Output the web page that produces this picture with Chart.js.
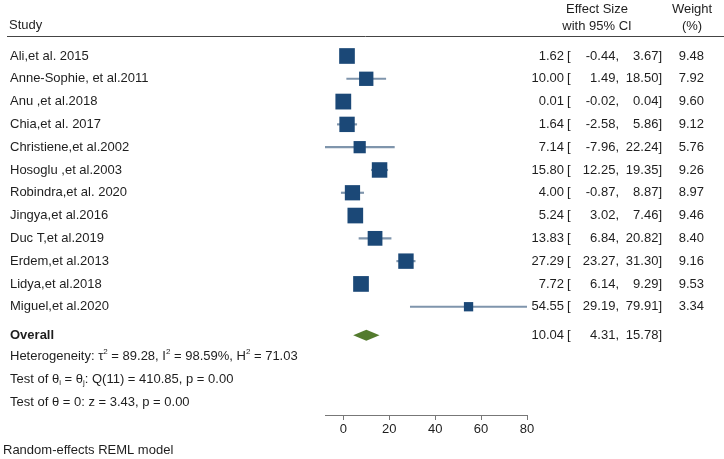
<!DOCTYPE html>
<html>
<head>
<meta charset="utf-8">
<script src="https://cdn.jsdelivr.net/npm/chart.js@4.4.1/dist/chart.umd.min.js"></script>
<style>
  body { margin: 0; background: #fff; }
  canvas { display: block; }
</style>
</head>
<body>
<canvas id="forest" width="724" height="459"></canvas>
<script>
// data
var studies = ['Ali,et al. 2015', 'Anne-Sophie, et al.2011', 'Anu ,et al.2018', 'Chia,et al. 2017',
    'Christiene,et al.2002', 'Hosoglu ,et al.2003', 'Robindra,et al. 2020', 'Jingya,et al.2016',
    'Duc T,et al.2019', 'Erdem,et al.2013', 'Lidya,et al.2018', 'Miguel,et al.2020'];
var effect = [1.62, 10.00, 0.01, 1.64, 7.14, 15.80, 4.00, 5.24, 13.83, 27.29, 7.72, 54.55];
var lower = [-0.44, 1.49, -0.02, -2.58, -7.96, 12.25, -0.87, 3.02, 6.84, 23.27, 6.14, 29.19];
var upper = [3.67, 18.50, 0.04, 5.86, 22.24, 19.35, 8.87, 7.46, 20.82, 31.30, 9.29, 79.91];
var weight = [9.48, 7.92, 9.60, 9.12, 5.76, 9.26, 8.97, 9.46, 8.40, 9.16, 9.53, 3.34];
var overall = [10.04, 4.31, 15.78];
var xTicks = [0, 20, 40, 60, 80];

var FONT = '"Liberation Sans", Arial, sans-serif';
var FS = 13;
var squareColor = '#1b4877';
var ciColor = '#7f95ac';
var diamondColor = '#537b2e';

function fmt(v) { return v.toFixed(2); }

// draws text with small sup/sub parts
function drawRich(ctx, parts, x, y) {
    ctx.textAlign = 'left';
    parts.forEach(function (p) {
        var txt = p[0], kind = p[1] || 'n';
        if (kind == 'n') {
            ctx.font = FS + 'px ' + FONT;
            ctx.fillText(txt, x, y);
        } else {
            ctx.font = '8px ' + FONT;
            ctx.fillText(txt, x, kind == 'sup' ? y - 5 : y + 3);
        }
        x += ctx.measureText(txt).width;
    });
}

var textPlugin = {
    id: 'forestText',
    afterDraw: function (chart) {
        var ctx = chart.ctx;
        var xs = chart.scales.x, ys = chart.scales.y;
        ctx.save();
        ctx.fillStyle = '#1e1e1e';
        ctx.textBaseline = 'middle';
        ctx.font = FS + 'px ' + FONT;

        // header
        ctx.textAlign = 'left';
        ctx.fillText('Study', 9, 25);
        ctx.textAlign = 'center';
        ctx.fillText('Effect Size', 597, 9);
        ctx.fillText('with 95% CI', 597, 26);
        ctx.fillText('Weight', 692, 9);
        ctx.fillText('(%)', 692, 26);
        ctx.strokeStyle = '#444';
        ctx.lineWidth = 1;
        ctx.beginPath();
        ctx.moveTo(7, 36.5);
        ctx.lineTo(724, 36.5);
        ctx.stroke();

        function numRow(y, est, lo, hi, w) {
            ctx.font = FS + 'px ' + FONT;
            ctx.textAlign = 'right';
            ctx.fillText(fmt(est), 564, y);
            ctx.textAlign = 'left';
            ctx.fillText('[', 567, y);
            ctx.textAlign = 'right';
            ctx.fillText(fmt(lo) + ',', 619, y);
            ctx.fillText(fmt(hi) + ']', 662, y);
            if (w != null) ctx.fillText(fmt(w), 704, y);
        }

        for (var i = 0; i < studies.length; i++) {
            var y = ys.getPixelForValue(i);
            ctx.font = FS + 'px ' + FONT;
            ctx.textAlign = 'left';
            ctx.fillText(studies[i], 10, y);
            numRow(y, effect[i], lower[i], upper[i], weight[i]);
        }

        // overall row
        var oy = ys.getPixelForValue(studies.length + 0.25);
        ctx.font = 'bold ' + FS + 'px ' + FONT;
        ctx.textAlign = 'left';
        ctx.fillText('Overall', 10, oy);
        numRow(oy, overall[0], overall[1], overall[2], null);

        // diamond
        var dl = xs.getPixelForValue(overall[1]);
        var dm = xs.getPixelForValue(overall[0]);
        var dr = xs.getPixelForValue(overall[2]);
        ctx.fillStyle = diamondColor;
        ctx.beginPath();
        ctx.moveTo(dl, oy);
        ctx.lineTo(dm, oy - 5.5);
        ctx.lineTo(dr, oy);
        ctx.lineTo(dm, oy + 5.5);
        ctx.closePath();
        ctx.fill();

        ctx.fillStyle = '#1e1e1e';
        drawRich(ctx, [['Heterogeneity: \u03c4'], ['2', 'sup'], [' = 89.28, I'], ['2', 'sup'],
            [' = 98.59%, H'], ['2', 'sup'], [' = 71.03']], 10, ys.getPixelForValue(13.2));
        drawRich(ctx, [['Test of \u03b8'], ['i', 'sub'], [' = \u03b8'], ['j', 'sub'],
            [': Q(11) = 410.85, p = 0.00']], 10, ys.getPixelForValue(14.2));
        drawRich(ctx, [['Test of \u03b8 = 0: z = 3.43, p = 0.00']], 10, ys.getPixelForValue(15.2));

        ctx.font = FS + 'px ' + FONT;
        ctx.textAlign = 'left';
        ctx.fillText('Random-effects REML model', 3, 450);
        ctx.restore();
    }
};

var rows = studies.map(function (s, i) { return i; });

new Chart(document.getElementById('forest'), {
    type: 'bar',
    data: {
        datasets: [
            {
                type: 'scatter',
                data: rows.map(function (i) { return { x: effect[i], y: i }; }),
                pointStyle: 'rect',
                pointRadius: weight.map(function (w) { return 3.6 * Math.sqrt(w); }),
                backgroundColor: squareColor,
                borderWidth: 0,
                order: 0
            },
            {
                type: 'bar',
                indexAxis: 'y',
                data: rows.map(function (i) { return { y: i, x: [lower[i], upper[i]] }; }),
                backgroundColor: ciColor,
                barThickness: 1.5,
                order: 1
            }
        ]
    },
    options: {
        responsive: false,
        animation: false,
        layout: { padding: { left: 325, right: 197, top: 36, bottom: 0 } },
        plugins: { legend: { display: false }, tooltip: { enabled: false } },
        scales: {
            x: {
                type: 'linear',
                min: -7.96,
                max: 80,
                offset: false,
                afterFit: function (scale) { scale.height = 44; },
                afterBuildTicks: function (scale) {
                    scale.ticks = xTicks.map(function (v) { return { value: v }; });
                },
                grid: { offset: false, drawOnChartArea: false, drawTicks: true, tickLength: 5, color: '#777' },
                border: { display: true, color: '#777' },
                ticks: { color: '#1e1e1e', font: { family: FONT, size: FS }, padding: 2 }
            },
            y: {
                type: 'linear',
                reverse: true,
                min: -0.877,
                max: 15.75,
                offset: false,
                grid: { offset: false },
                display: false
            }
        }
    },
    plugins: [textPlugin]
});
</script>
</body>
</html>
